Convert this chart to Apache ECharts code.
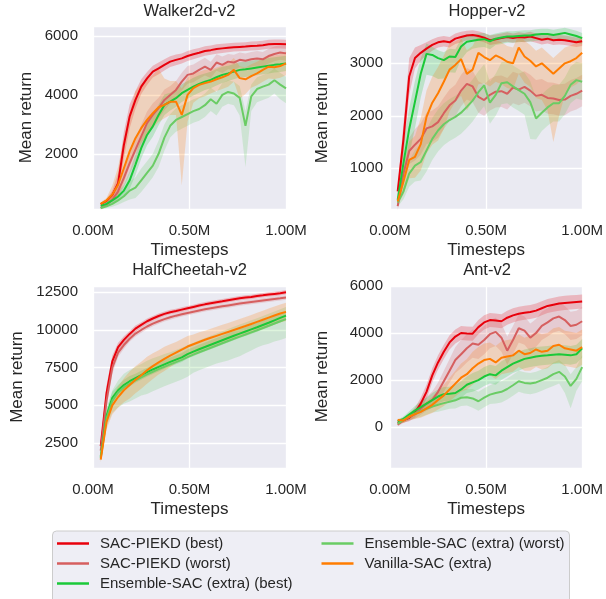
<!DOCTYPE html>
<html>
<head>
<meta charset="utf-8">
<script src="https://cdn.jsdelivr.net/npm/echarts@6/dist/echarts.min.js"></script>
<style>
  html, body { margin: 0; padding: 0; background: #ffffff; }
  #chart { width: 606px; height: 599px; }
</style>
</head>
<body>
<div id="chart"></div>
<script>
// Evaluation points, in millions of timesteps
const steps = [0.04, 0.07, 0.10, 0.13, 0.16, 0.19, 0.22, 0.25, 0.28, 0.31, 0.34, 0.37, 0.40, 0.43, 0.46, 0.49, 0.52,
  0.55, 0.58, 0.61, 0.64, 0.67, 0.70, 0.73, 0.76, 0.79, 0.82, 0.85, 0.88, 0.91, 0.94, 0.97, 1.00];

const methods = ['SAC-PIEKD (best)', 'SAC-PIEKD (worst)', 'Ensemble-SAC (extra) (best)',
  'Ensemble-SAC (extra) (worst)', 'Vanilla-SAC (extra)'];
const envNames = ['Walker2d-v2', 'Hopper-v2', 'HalfCheetah-v2', 'Ant-v2'];
const xTicks = [0, 0.5, 1.0];
const yTickSteps = [2000, 1000, 2500, 2000];

// ---------- Walker2d-v2: mean return, spread below / above ----------
const wkRedMean = [290, 400, 600, 1000, 2300, 3270, 3830, 4280, 4560, 4790, 4900, 5020, 5130, 5190, 5240, 5320, 5380, 5430, 5490, 5520, 5560, 5580, 5600, 5620, 5630, 5640, 5660, 5670, 5690, 5720, 5730, 5730, 5720];
const wkRedBand = [40, 60, 150, 350, 450, 400, 300, 250, 220, 200, 200, 190, 180, 180, 170, 170, 170, 160, 160, 160, 160, 160, 150, 150, 150, 150, 150, 150, 150, 150, 150, 150, 150];
const wkWorstMean = [160, 270, 440, 720, 1180, 1680, 2140, 2590, 3040, 3320, 3550, 3830, 4000, 4170, 4450, 4680, 4730, 4850, 4960, 4850, 5100, 5020, 5130, 5100, 5190, 5160, 5210, 5240, 5210, 5320, 5390, 5440, 5410];
const wkWorstBand = [50, 80, 150, 250, 300, 350, 400, 400, 400, 400, 350, 350, 300, 300, 300, 300, 300, 300, 300, 280, 280, 280, 260, 260, 250, 250, 250, 250, 250, 250, 250, 250, 250];
const wkEnsBestMean = [230, 300, 420, 550, 750, 1100, 1630, 2190, 2640, 2930, 3320, 3660, 3770, 3890, 4060, 4170, 4280, 4370, 4450, 4510, 4600, 4680, 4730, 4790, 4850, 4870, 4900, 4930, 4960, 4990, 5020, 5040, 5070];
const wkEnsBestBand = [50, 60, 100, 150, 200, 300, 350, 350, 350, 350, 350, 350, 300, 300, 300, 300, 300, 300, 280, 280, 280, 280, 260, 260, 260, 260, 260, 260, 260, 260, 260, 260, 260];
const wkEnsWorstMean = [160, 220, 300, 420, 560, 750, 850, 1100, 1350, 1600, 2000, 2550, 2950, 3150, 3250, 3350, 3450, 3520, 3650, 3850, 3700, 4000, 4100, 4050, 3900, 2950, 3950, 4200, 4280, 4350, 4500, 4350, 4220];
const wkEnsWorstDn = [40, 60, 100, 150, 200, 300, 350, 400, 400, 400, 450, 450, 400, 400, 400, 400, 400, 400, 400, 400, 400, 400, 400, 400, 600, 1400, 500, 450, 450, 450, 450, 500, 500];
const wkEnsWorstUp = [40, 60, 100, 150, 200, 300, 350, 400, 400, 400, 450, 450, 400, 400, 400, 400, 400, 400, 400, 400, 400, 400, 400, 400, 400, 500, 400, 400, 400, 400, 400, 400, 400];
const wkVanMean = [300, 420, 620, 950, 1510, 2080, 2530, 2870, 3150, 3380, 3580, 3660, 3770, 3770, 3320, 4000, 4230, 4340, 4400, 4450, 4530, 4600, 4680, 4850, 4570, 4530, 4640, 4730, 4850, 4960, 4940, 4980, 5070];
const wkVanDn = [50, 80, 200, 400, 500, 500, 500, 500, 500, 500, 500, 450, 450, 450, 2400, 900, 500, 450, 450, 400, 400, 400, 400, 400, 700, 500, 400, 400, 400, 400, 400, 400, 400];
const wkVanUp = [50, 80, 300, 600, 1000, 1300, 1600, 1500, 1400, 1300, 1300, 900, 700, 700, 900, 600, 500, 450, 450, 400, 400, 400, 400, 400, 400, 400, 400, 400, 400, 400, 400, 400, 400];

// ---------- Hopper-v2 ----------
const hpRedMean = [560, 1550, 2750, 3100, 3200, 3280, 3350, 3400, 3420, 3400, 3470, 3500, 3530, 3540, 3520, 3490, 3440, 3460, 3480, 3500, 3480, 3500, 3490, 3510, 3480, 3450, 3470, 3440, 3450, 3440, 3420, 3400, 3420];
const hpRedBand = [80, 300, 350, 200, 150, 120, 110, 100, 100, 100, 100, 100, 90, 90, 90, 90, 90, 90, 90, 90, 90, 90, 90, 90, 90, 90, 90, 90, 90, 90, 90, 90, 90];
const hpWorstMean = [280, 900, 1330, 1450, 1560, 1760, 1800, 1880, 2050, 2200, 2290, 2480, 2610, 2560, 2360, 2300, 2400, 2460, 2470, 2420, 2540, 2500, 2550, 2480, 2380, 2400, 2340, 2330, 2300, 2310, 2380, 2420, 2480];
const hpWorstBand = [80, 200, 250, 300, 300, 300, 300, 300, 300, 300, 300, 300, 300, 300, 300, 300, 300, 300, 300, 300, 300, 300, 300, 300, 300, 300, 300, 300, 300, 300, 300, 300, 300];
const hpEnsBestMean = [400, 1100, 1750, 2270, 2800, 3180, 3160, 3100, 3060, 3130, 3120, 3320, 3410, 3430, 3450, 3460, 3420, 3470, 3490, 3510, 3510, 3520, 3530, 3530, 3550, 3560, 3560, 3540, 3560, 3580, 3550, 3520, 3480];
const hpEnsBestDn = [100, 400, 500, 500, 450, 400, 400, 400, 350, 300, 300, 250, 200, 150, 150, 150, 150, 120, 120, 120, 120, 120, 120, 120, 120, 120, 120, 120, 120, 120, 120, 120, 120];
const hpEnsBestUp = [100, 400, 400, 400, 300, 200, 150, 150, 150, 150, 150, 150, 150, 120, 120, 120, 120, 100, 100, 100, 100, 100, 100, 100, 100, 100, 100, 100, 100, 100, 100, 100, 100];
const hpEnsWorstMean = [350, 560, 900, 1050, 1120, 1340, 1560, 1720, 1840, 1920, 1980, 2060, 2170, 2290, 2450, 2580, 2250, 2400, 2620, 2640, 2560, 2490, 2420, 2260, 1950, 2060, 2160, 2240, 2240, 2380, 2590, 2680, 2650];
const hpEnsWorstDn = [80, 150, 250, 300, 350, 400, 400, 400, 400, 400, 400, 400, 400, 400, 400, 400, 400, 400, 400, 400, 400, 400, 400, 700, 400, 350, 350, 350, 350, 350, 350, 350, 350];
const hpEnsWorstUp = [80, 150, 250, 300, 350, 400, 400, 400, 400, 400, 400, 400, 400, 400, 400, 400, 400, 400, 400, 400, 400, 400, 400, 400, 400, 350, 350, 350, 350, 350, 350, 350, 350];
const hpVanMean = [370, 750, 1160, 1220, 1460, 1980, 2250, 2430, 2650, 2880, 2970, 3080, 2800, 2880, 3200, 3120, 3060, 3150, 3100, 3030, 3000, 3300, 3130, 3050, 2940, 3000, 2900, 2800, 2900, 3000, 3040, 3100, 3200];
const hpVanDn = [80, 250, 350, 400, 500, 700, 800, 900, 900, 800, 700, 700, 700, 600, 600, 500, 500, 500, 500, 500, 500, 500, 500, 500, 600, 700, 800, 1300, 900, 600, 500, 500, 500];
const hpVanUp = [80, 250, 350, 400, 500, 500, 500, 500, 500, 500, 450, 400, 450, 450, 350, 350, 350, 300, 300, 300, 300, 250, 300, 300, 300, 300, 300, 300, 300, 300, 300, 300, 300];

// ---------- HalfCheetah-v2 ----------
const hcRedMean = [2300, 5810, 7910, 8860, 9340, 9740, 10090, 10340, 10580, 10760, 10930, 11070, 11180, 11260, 11350, 11440, 11530, 11620, 11700, 11770, 11840, 11900, 11970, 12040, 12100, 12150, 12190, 12260, 12300, 12350, 12390, 12430, 12500];
const hcRedBand = [200, 500, 400, 300, 250, 200, 200, 180, 180, 170, 170, 160, 160, 150, 150, 150, 150, 150, 150, 150, 150, 150, 150, 150, 150, 150, 150, 150, 150, 150, 150, 150, 150];
const hcWorstMean = [2000, 5300, 7500, 8500, 9000, 9420, 9760, 10000, 10230, 10420, 10580, 10720, 10840, 10950, 11040, 11130, 11210, 11290, 11370, 11440, 11510, 11570, 11630, 11690, 11750, 11810, 11860, 11910, 11960, 12010, 12060, 12100, 12150];
const hcWorstBand = [200, 500, 400, 300, 250, 200, 200, 180, 180, 170, 170, 160, 160, 150, 150, 150, 150, 150, 150, 150, 150, 150, 150, 150, 150, 150, 150, 150, 150, 150, 150, 150, 150];
const hcEnsBestMean = [1600, 4300, 5500, 6000, 6350, 6600, 6800, 7000, 7200, 7380, 7550, 7720, 7880, 8030, 8180, 8400, 8560, 8720, 8870, 9020, 9170, 9320, 9470, 9620, 9760, 9900, 10040, 10180, 10330, 10480, 10640, 10800, 10950];
const hcEnsBestBand = [200, 500, 400, 350, 350, 350, 300, 300, 300, 300, 300, 300, 300, 300, 300, 300, 300, 300, 300, 300, 300, 300, 300, 300, 300, 300, 300, 300, 300, 300, 300, 300, 300];
const hcEnsWorstMean = [1500, 4100, 5300, 5850, 6200, 6450, 6650, 6850, 7050, 7230, 7400, 7560, 7720, 7870, 8020, 8200, 8360, 8520, 8670, 8820, 8970, 9120, 9270, 9420, 9560, 9700, 9840, 9980, 10130, 10280, 10430, 10580, 10720];
const hcEnsWorstDn = [200, 500, 800, 1000, 1100, 1200, 1200, 1200, 1300, 1300, 1300, 1300, 1300, 1300, 1300, 1300, 1200, 1200, 1200, 1200, 1200, 1250, 1300, 1300, 1300, 1250, 1200, 1150, 1150, 1200, 1200, 1250, 1250];
const hcEnsWorstUp = [200, 500, 700, 800, 900, 900, 900, 900, 900, 900, 850, 850, 800, 800, 800, 800, 800, 800, 800, 800, 800, 800, 800, 800, 800, 800, 800, 800, 800, 800, 800, 800, 800];
const hcVanMean = [1400, 3900, 5000, 5550, 6000, 6350, 6700, 7000, 7330, 7600, 7850, 8080, 8300, 8500, 8700, 8900, 9050, 9200, 9350, 9480, 9610, 9740, 9870, 10000, 10130, 10260, 10400, 10540, 10680, 10820, 10960, 11090, 11200];
const hcVanBand = [200, 500, 600, 700, 800, 900, 900, 900, 900, 850, 800, 800, 750, 700, 700, 700, 650, 650, 600, 600, 600, 600, 600, 600, 600, 600, 600, 600, 600, 600, 600, 600, 600];

// ---------- Ant-v2 ----------
const antRedMean = [180, 300, 400, 620, 1000, 1500, 2200, 2750, 3200, 3600, 3850, 4000, 3980, 3970, 4250, 4450, 4550, 4530, 4500, 4650, 4750, 4820, 4860, 4890, 4950, 5050, 5150, 5200, 5250, 5280, 5300, 5320, 5340];
const antRedBand = [60, 100, 150, 200, 250, 300, 300, 300, 300, 300, 300, 300, 300, 300, 300, 300, 300, 300, 300, 300, 300, 300, 300, 300, 300, 300, 300, 300, 300, 300, 300, 300, 300];
const antWorstMean = [100, 280, 420, 560, 780, 1000, 1160, 1500, 1950, 2400, 2850, 3100, 3350, 3550, 3500, 3700, 3950, 4050, 3800, 3250, 3700, 4200, 4100, 3800, 4000, 4300, 4450, 4620, 4700, 4550, 4300, 4350, 4500];
const antWorstBand = [60, 100, 150, 200, 250, 300, 350, 400, 450, 500, 550, 600, 600, 600, 600, 600, 600, 600, 600, 600, 600, 600, 600, 600, 600, 600, 600, 600, 600, 600, 600, 600, 600];
const antEnsBestMean = [250, 350, 530, 700, 850, 1000, 1150, 1300, 1400, 1420, 1450, 1600, 1800, 1900, 2000, 2150, 2250, 2200, 2400, 2550, 2700, 2800, 2900, 2950, 3000, 3030, 3050, 3080, 3100, 3080, 3050, 3100, 3350];
const antEnsBestBand = [60, 100, 150, 200, 250, 250, 300, 300, 300, 300, 350, 350, 350, 400, 400, 400, 400, 400, 400, 400, 400, 400, 400, 400, 400, 400, 400, 400, 400, 400, 400, 400, 400];
const antEnsWorstMean = [150, 300, 450, 580, 680, 780, 870, 950, 1020, 1080, 1140, 1250, 1270, 1220, 1100, 1250, 1380, 1450, 1500, 1620, 1780, 1950, 1880, 1850, 1900, 2000, 2100, 2250, 2350, 2150, 1750, 2050, 2550];
const antEnsWorstDn = [60, 100, 150, 200, 250, 250, 250, 300, 300, 300, 350, 350, 350, 400, 400, 400, 400, 450, 450, 450, 450, 450, 450, 450, 450, 450, 450, 500, 500, 700, 950, 500, 600];
const antEnsWorstUp = [60, 100, 150, 200, 250, 250, 250, 300, 300, 300, 350, 350, 350, 400, 400, 400, 400, 450, 450, 450, 450, 450, 450, 450, 450, 450, 450, 500, 500, 500, 500, 500, 500];
const antVanMean = [300, 280, 450, 550, 650, 800, 950, 1150, 1350, 1600, 1850, 2100, 2250, 2500, 2700, 2850, 2900, 2750, 2950, 3000, 3050, 3250, 3100, 3150, 3300, 3200, 3250, 3450, 3500, 3350, 3300, 3250, 3400];
const antVanBand = [60, 100, 150, 200, 250, 300, 350, 400, 450, 500, 550, 600, 650, 700, 700, 700, 700, 700, 700, 700, 700, 700, 700, 750, 750, 750, 750, 750, 750, 750, 750, 750, 750];

// [mean, spread below, spread above] per method, in legend order
const curves = [
  [[wkRedMean, wkRedBand, wkRedBand], [wkWorstMean, wkWorstBand, wkWorstBand], [wkEnsBestMean, wkEnsBestBand, wkEnsBestBand],
   [wkEnsWorstMean, wkEnsWorstDn, wkEnsWorstUp], [wkVanMean, wkVanDn, wkVanUp]],
  [[hpRedMean, hpRedBand, hpRedBand], [hpWorstMean, hpWorstBand, hpWorstBand], [hpEnsBestMean, hpEnsBestDn, hpEnsBestUp],
   [hpEnsWorstMean, hpEnsWorstDn, hpEnsWorstUp], [hpVanMean, hpVanDn, hpVanUp]],
  [[hcRedMean, hcRedBand, hcRedBand], [hcWorstMean, hcWorstBand, hcWorstBand], [hcEnsBestMean, hcEnsBestBand, hcEnsBestBand],
   [hcEnsWorstMean, hcEnsWorstDn, hcEnsWorstUp], [hcVanMean, hcVanBand, hcVanBand]],
  [[antRedMean, antRedBand, antRedBand], [antWorstMean, antWorstBand, antWorstBand], [antEnsBestMean, antEnsBestBand, antEnsBestBand],
   [antEnsWorstMean, antEnsWorstDn, antEnsWorstUp], [antVanMean, antVanBand, antVanBand]]
];

// ---------- layout & style ----------
const FONT = '"Liberation Sans", Arial, sans-serif';
const TEXT = '#262626';
const colors = ['#e8000b', '#d65f5f', '#1ac938', '#6acc64', '#ff7c00'];
const gridBoxes = [
  { left: 93, top: 26, width: 193, height: 183 },
  { left: 390, top: 26, width: 194, height: 183 },
  { left: 93, top: 286, width: 193, height: 182 },
  { left: 390, top: 285, width: 194, height: 183 }
];
const yRanges = [[125, 6340], [225, 3711], [842, 12918], [-1737, 6040]];
const yLabelMargin = [15, 7, 15, 7];
const yNameGap = [58, 59, 67, 59];
const titlePos = [[189.5, 11], [487, 11], [189.5, 270], [487, 270.5]];

const grids = gridBoxes.map(b => Object.assign({
  show: true, backgroundColor: '#eaeaf2', borderWidth: 0, containLabel: false
}, b));

const xAxes = gridBoxes.map((b, i) => ({
  type: 'value', gridIndex: i, min: xTicks[0], max: xTicks[xTicks.length - 1], interval: xTicks[1] - xTicks[0],
  axisLine: { show: false }, axisTick: { show: false },
  axisLabel: { margin: 14, fontSize: 15, color: TEXT, fontFamily: FONT,
    formatter: v => v.toFixed(2) + 'M' },
  splitLine: { show: true, lineStyle: { color: '#ffffff', width: 1.3 } },
  name: 'Timesteps', nameLocation: 'middle', nameGap: 33,
  nameTextStyle: { fontSize: 17, color: TEXT, fontFamily: FONT }
}));

const yAxes = gridBoxes.map((b, i) => {
  const step = yTickSteps[i];
  return {
    type: 'value', gridIndex: i, min: yRanges[i][0], max: yRanges[i][1],
    minInterval: step, maxInterval: step, splitNumber: 4,
    axisLine: { show: false }, axisTick: { show: false },
    axisLabel: { margin: yLabelMargin[i], fontSize: 15, color: TEXT, fontFamily: FONT,
      formatter: v => (Math.abs(v % step) < 1e-6 ? String(v) : '') },
    splitLine: { show: true, lineStyle: { color: '#ffffff', width: 1.3 } },
    name: 'Mean return', nameLocation: 'middle', nameGap: yNameGap[i],
    nameTextStyle: { fontSize: 17, color: TEXT, fontFamily: FONT }
  };
});

const series = [];
curves.forEach((panel, i) => {
  // shaded spread regions first
  panel.forEach((c, k) => {
    const [mean, dn, up] = c;
    series.push({
      type: 'custom', xAxisIndex: i, yAxisIndex: i, silent: true, z: 1,
      data: [[steps[0], mean[0]]],
      renderItem: (params, api) => {
        const pts = [];
        for (let j = 0; j < steps.length; j++) pts.push(api.coord([steps[j], mean[j] + up[j]]));
        for (let j = steps.length - 1; j >= 0; j--) pts.push(api.coord([steps[j], mean[j] - dn[j]]));
        return { type: 'polygon', shape: { points: pts }, style: { fill: colors[k], opacity: 0.22 } };
      }
    });
  });
  // mean curves on top
  panel.forEach((c, k) => {
    series.push({
      type: 'line', name: methods[k], xAxisIndex: i, yAxisIndex: i, z: 3,
      data: steps.map((s, j) => [s, c[0][j]]),
      symbol: 'none', showSymbol: false,
      lineStyle: { width: 2, color: colors[k] }, itemStyle: { color: colors[k] }
    });
  });
});

const legendText = { fontSize: 15, color: TEXT, fontFamily: FONT, padding: [0, 0, 0, 6] };
const legends = [
  { data: methods.slice(0, 3), left: 57, top: 536 },
  { data: methods.slice(3), left: 321.5, top: 536 }
].map(l => Object.assign({
  orient: 'vertical', icon: 'rect', itemWidth: 32, itemHeight: 2.5, itemGap: 5, padding: 0,
  textStyle: legendText, selectedMode: false
}, l));

const graphics = [
  { type: 'rect', z: -10, shape: { x: 52.5, y: 531, width: 517, height: 80, r: 4 },
    style: { fill: '#eeeef5', stroke: '#cccccc', lineWidth: 1 } }
].concat(envNames.map((t, i) => ({
  type: 'text', x: titlePos[i][0], y: titlePos[i][1],
  style: { text: t, fill: TEXT, font: '16.5px ' + FONT, align: 'center', verticalAlign: 'middle' }
})));

const chart = echarts.init(document.getElementById('chart'), null, { renderer: 'canvas' });
chart.setOption({
  animation: false,
  backgroundColor: '#ffffff',
  textStyle: { fontFamily: FONT },
  grid: grids,
  xAxis: xAxes,
  yAxis: yAxes,
  legend: legends,
  graphic: graphics,
  series: series
});
</script>
</body>
</html>
